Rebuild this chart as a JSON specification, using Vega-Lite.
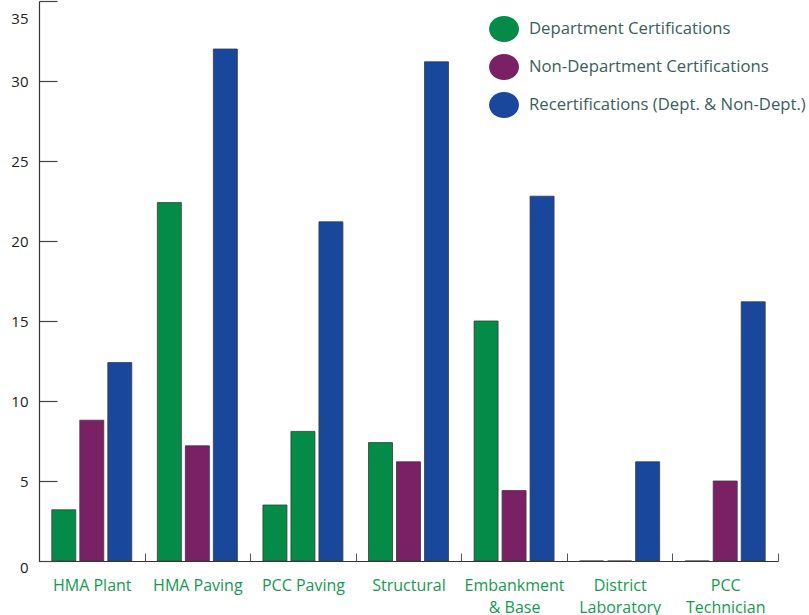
{
  "$schema": "https://vega.github.io/schema/vega-lite/v6.json",
  "width": 739,
  "height": 560,
  "padding": {"top": 0, "left": 10, "right": 5, "bottom": 5},
  "background": "white",
  "config": {"view": {"stroke": null}, "font": "Open Sans"},
  "data": {"values": [
    {"category": "HMA Plant", "series": "Department Certifications", "value": 3.2},
    {"category": "HMA Plant", "series": "Non-Department Certifications", "value": 8.8},
    {"category": "HMA Plant", "series": "Recertifications (Dept. & Non-Dept.)", "value": 12.4},
    {"category": "HMA Paving", "series": "Department Certifications", "value": 22.4},
    {"category": "HMA Paving", "series": "Non-Department Certifications", "value": 7.2},
    {"category": "HMA Paving", "series": "Recertifications (Dept. & Non-Dept.)", "value": 32.0},
    {"category": "PCC Paving", "series": "Department Certifications", "value": 3.5},
    {"category": "PCC Paving", "series": "Non-Department Certifications", "value": 8.1},
    {"category": "PCC Paving", "series": "Recertifications (Dept. & Non-Dept.)", "value": 21.2},
    {"category": "Structural", "series": "Department Certifications", "value": 7.4},
    {"category": "Structural", "series": "Non-Department Certifications", "value": 6.2},
    {"category": "Structural", "series": "Recertifications (Dept. & Non-Dept.)", "value": 31.2},
    {"category": "Embankment & Base", "series": "Department Certifications", "value": 15.0},
    {"category": "Embankment & Base", "series": "Non-Department Certifications", "value": 4.4},
    {"category": "Embankment & Base", "series": "Recertifications (Dept. & Non-Dept.)", "value": 22.8},
    {"category": "District Laboratory", "series": "Department Certifications", "value": 0},
    {"category": "District Laboratory", "series": "Non-Department Certifications", "value": 0},
    {"category": "District Laboratory", "series": "Recertifications (Dept. & Non-Dept.)", "value": 6.2},
    {"category": "PCC Technician", "series": "Department Certifications", "value": 0},
    {"category": "PCC Technician", "series": "Non-Department Certifications", "value": 5.0},
    {"category": "PCC Technician", "series": "Recertifications (Dept. & Non-Dept.)", "value": 16.2}
  ]},
  "mark": {"type": "bar", "stroke": "#3a3a3a", "strokeWidth": 0.8},
  "encoding": {
    "x": {
      "field": "category", "type": "nominal", "sort": null, "title": null,
      "scale": {"paddingInner": 0, "paddingOuter": 0},
      "axis": {
        "labelAngle": 0, "labelColor": "#149a50", "labelFontSize": 16, "labelPadding": 24,
        "labelExpr": "indexof(['Embankment & Base','District Laboratory','PCC Technician'], datum.label) >= 0 ? split(replace(datum.label, ' ', '|'), '|') : datum.label",
        "labelLineHeight": 22,
        "tickBand": "extent", "tickSize": -8, "tickColor": "#555", "tickWidth": 1,
        "domainColor": "#333", "domainWidth": 1.2
      }
    },
    "xOffset": {
      "field": "series", "type": "nominal",
      "sort": ["Department Certifications", "Non-Department Certifications", "Recertifications (Dept. & Non-Dept.)"],
      "scale": {"paddingInner": 0.143, "paddingOuter": 0.457}
    },
    "y": {
      "field": "value", "type": "quantitative", "title": null,
      "scale": {"domain": [0, 35], "nice": false},
      "axis": {
        "values": [0, 5, 10, 15, 20, 25, 30, 35], "grid": false,
        "tickSize": -18, "tickColor": "#444", "tickWidth": 1.2,
        "labelFontSize": 15, "labelColor": "#222", "labelPadding": 29,
        "labelOffset": {"condition": [{"test": "datum.value == 35", "value": 17}, {"test": "datum.value == 0", "value": 6}], "value": 0},
        "domainColor": "#333", "domainWidth": 1.2
      }
    },
    "color": {
      "condition": {"test": "datum.category === 'PCC Paving' && datum.series === 'Non-Department Certifications'", "value": "#048b47"},
      "field": "series", "type": "nominal",
      "sort": ["Department Certifications", "Non-Department Certifications", "Recertifications (Dept. & Non-Dept.)"],
      "scale": {
        "domain": ["Department Certifications", "Non-Department Certifications", "Recertifications (Dept. & Non-Dept.)"],
        "range": ["#048b47", "#7a2166", "#18479c"]
      },
      "legend": {
        "title": null, "orient": "none", "legendX": 452, "legendY": 15,
        "symbolType": "M-1.15,0 A1.15,1 0 1,1 1.15,0 A1.15,1 0 1,1 -1.15,0 Z",
        "symbolSize": 676, "symbolStrokeWidth": 0, "symbolOpacity": 1,
        "labelFontSize": 16.7, "labelColor": "#3b5d5d", "labelOffset": 12,
        "rowPadding": 10, "padding": 0, "labelLimit": 400
      }
    }
  }
}
